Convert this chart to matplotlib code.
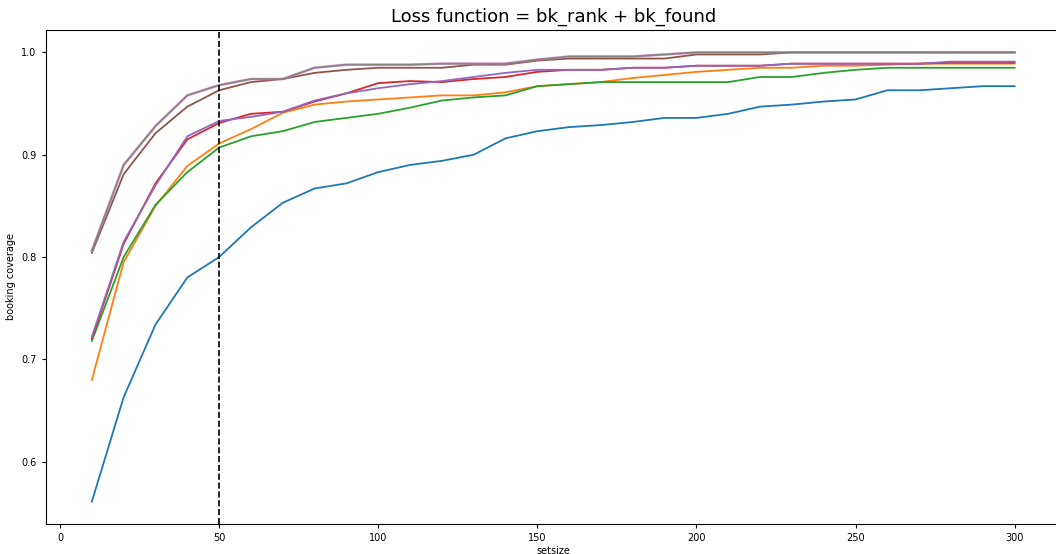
import numpy as np
import matplotlib
matplotlib.use('Agg')
import matplotlib.pyplot as plt

# 候选集大小
setsize = [10, 20, 30, 40, 50, 60, 70, 80, 90, 100,
           110, 120, 130, 140, 150, 160, 170, 180, 190, 200,
           210, 220, 230, 240, 250, 260, 270, 280, 290, 300]

# 各模型的 booking coverage
cov_1 = [0.561, 0.663, 0.734, 0.780, 0.800, 0.829, 0.853, 0.867, 0.872, 0.883,
         0.890, 0.894, 0.900, 0.916, 0.923, 0.927, 0.929, 0.932, 0.936, 0.936,
         0.940, 0.947, 0.949, 0.952, 0.954, 0.963, 0.963, 0.965, 0.967, 0.967]
cov_2 = [0.680, 0.795, 0.850, 0.889, 0.911, 0.925, 0.941, 0.949, 0.952, 0.954,
         0.956, 0.958, 0.958, 0.961, 0.967, 0.969, 0.971, 0.975, 0.978, 0.981,
         0.983, 0.985, 0.985, 0.987, 0.987, 0.988, 0.989, 0.989, 0.989, 0.989]
cov_3 = [0.718, 0.800, 0.851, 0.883, 0.907, 0.918, 0.923, 0.932, 0.936, 0.940,
         0.946, 0.953, 0.956, 0.958, 0.967, 0.969, 0.971, 0.971, 0.971, 0.971,
         0.971, 0.976, 0.976, 0.980, 0.983, 0.985, 0.985, 0.985, 0.985, 0.985]
cov_4 = [0.720, 0.813, 0.872, 0.915, 0.931, 0.940, 0.942, 0.952, 0.960, 0.970,
         0.972, 0.971, 0.974, 0.976, 0.981, 0.983, 0.983, 0.985, 0.985, 0.987,
         0.987, 0.987, 0.989, 0.989, 0.989, 0.989, 0.989, 0.990, 0.990, 0.990]
cov_5 = [0.722, 0.815, 0.870, 0.918, 0.933, 0.937, 0.942, 0.953, 0.960, 0.965,
         0.969, 0.972, 0.976, 0.980, 0.983, 0.983, 0.983, 0.985, 0.985, 0.987,
         0.987, 0.987, 0.989, 0.989, 0.989, 0.989, 0.989, 0.991, 0.991, 0.991]
cov_6 = [0.804, 0.881, 0.921, 0.947, 0.963, 0.971, 0.974, 0.980, 0.983, 0.985,
         0.985, 0.985, 0.988, 0.988, 0.992, 0.994, 0.994, 0.994, 0.994, 0.998,
         0.998, 0.998, 1.000, 1.000, 1.000, 1.000, 1.000, 1.000, 1.000, 1.000]
cov_7 = [0.806, 0.890, 0.928, 0.958, 0.968, 0.974, 0.974, 0.985, 0.988, 0.988,
         0.988, 0.989, 0.989, 0.989, 0.993, 0.996, 0.996, 0.996, 0.998, 1.000,
         1.000, 1.000, 1.000, 1.000, 1.000, 1.000, 1.000, 1.000, 1.000, 1.000]
cov_8 = cov_7

fig = plt.figure(figsize=(10.56, 5.54), dpi=100)
ax = fig.add_axes([0.0433, 0.0542, 0.9612, 0.8917])

for c in [cov_1, cov_2, cov_3, cov_4, cov_5, cov_6]:
    ax.plot(setsize, c, linewidth=1.3)
# 最后两条曲线重合
ax.plot(setsize, cov_7, color='tab:pink', linewidth=2.0, alpha=0.6)
ax.plot(setsize, cov_8, color='tab:gray', linewidth=1.3, alpha=0.9)

# setsize = 50 的分界线
ax.axvline(50, color='black', linestyle='--', linewidth=1.2)

ax.set_title("Loss function = bk_rank + bk_found", fontsize=13)
ax.set_xlabel('setsize', fontsize=7, labelpad=2)
ax.set_ylabel('booking coverage', fontsize=7)
ax.tick_params(labelsize=7, length=3)
ax.set_yticks([0.6, 0.7, 0.8, 0.9, 1.0])
ax.spines['right'].set_visible(False)

plt.savefig('out.png', dpi=100)
